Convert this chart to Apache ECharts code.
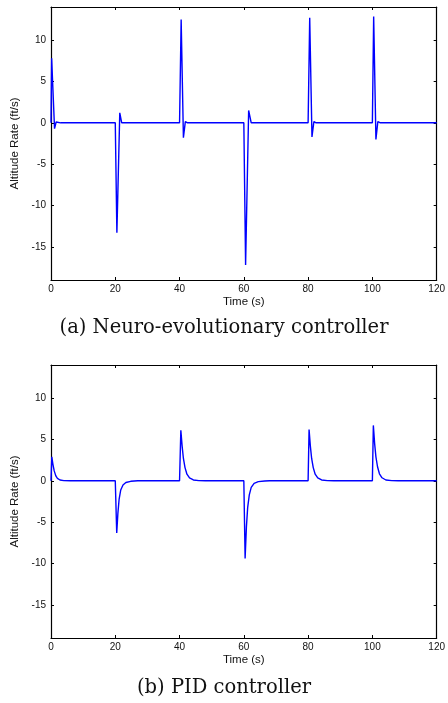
<!DOCTYPE html>
<html>
<head>
<meta charset="utf-8">
<script src="https://cdn.jsdelivr.net/npm/echarts@6/dist/echarts.min.js"></script>
<style>
html,body{margin:0;padding:0;background:#fff;}
#chart{width:448px;height:703px;}
</style>
</head>
<body>
<div id="chart"></div>
<script>
// Time axis ticks and altitude-rate tick values
const timeTicks = [0, 20, 40, 60, 80, 100, 120];
const rateTicks = [-15, -10, -5, 0, 5, 10];

// (a) Neuro-evolutionary controller
const neuroTime = [0, 0.2, 1.1, 1.6, 2.2, 3.0,
  20.0, 20.5, 21.4, 22.0,
  40.0, 40.5, 41.2, 41.8, 42.5,
  60.0, 60.55, 61.5, 62.3,
  80.0, 80.5, 81.2, 81.8, 82.5,
  100.0, 100.4, 101.1, 101.7, 102.5, 120];
const neuroRate = [0, 7.8, -0.7, 0.1, 0.15, 0,
  0, -13.3, 1.2, 0,
  0, 12.5, -1.8, 0.15, 0,
  0, -17.2, 1.5, 0,
  0, 12.7, -1.7, 0.15, 0,
  0, 12.85, -2.0, 0.15, 0, 0];

// (b) PID controller
const pidTime = [0, 0.25, 0.6, 1.0, 1.5, 2.0, 2.8, 4, 6,
  20, 20.45, 20.8, 21.2, 21.7, 22.4, 23.3, 24.8, 27,
  40, 40.4, 40.8, 41.2, 41.7, 42.3, 43.1, 44.3, 46, 48,
  60, 60.4, 60.8, 61.2, 61.7, 62.3, 63.2, 64.5, 66.5, 68,
  80, 80.3, 80.7, 81.1, 81.6, 82.2, 83, 84.2, 86, 88,
  100, 100.3, 100.7, 101.1, 101.6, 102.2, 103, 104.2, 106, 108, 120];
const pidRate = [0, 2.9, 2.0, 1.2, 0.6, 0.3, 0.1, 0.02, 0,
  0, -6.3, -4.0, -2.2, -1.1, -0.5, -0.2, -0.06, 0,
  0, 6.1, 4.2, 2.7, 1.6, 0.8, 0.35, 0.1, 0.02, 0,
  0, -9.4, -5.6, -3.2, -1.7, -0.8, -0.3, -0.1, -0.02, 0,
  0, 6.2, 4.2, 2.7, 1.6, 0.8, 0.35, 0.1, 0.02, 0,
  0, 6.7, 4.5, 2.9, 1.7, 0.85, 0.37, 0.1, 0.02, 0, 0];

const captions = ['(a) Neuro-evolutionary controller', '(b) PID controller'];
const xName = 'Time (s)';
const yName = 'Altitude Rate (ft/s)';

const zip = (a, b) => a.map((t, i) => [t, b[i]]);
const font = 'Liberation Sans, Arial, sans-serif';
const lineCol = { color: '#000', width: 1.2 };

function xAxes(gridIndex) {
  return [
    {
      type: 'value', gridIndex, position: 'bottom', min: 0, max: 120, interval: 20,
      name: xName, nameLocation: 'middle', nameGap: 16,
      nameTextStyle: { fontFamily: font, fontSize: 11.5, color: '#111' },
      axisLine: { onZero: false, lineStyle: lineCol },
      axisTick: { inside: true, length: 3, lineStyle: { color: '#000' } },
      axisLabel: { fontFamily: font, fontSize: 10, color: '#111', margin: 4 },
      splitLine: { show: false }
    },
    {
      type: 'value', gridIndex, position: 'top', min: 0, max: 120, interval: 20,
      axisLine: { onZero: false, lineStyle: lineCol },
      axisTick: { inside: true, length: 3, lineStyle: { color: '#000' } },
      axisLabel: { show: false },
      splitLine: { show: false }
    }
  ];
}
function yAxes(gridIndex) {
  return [
    {
      type: 'value', gridIndex, position: 'left', min: -19, max: 14,
      name: yName, nameLocation: 'middle', nameGap: 18,
      nameTextStyle: { fontFamily: font, fontSize: 11.5, color: '#111' },
      axisLine: { show: true, onZero: false, lineStyle: lineCol },
      axisTick: { show: true, inside: true, length: 3, customValues: rateTicks, lineStyle: { color: '#000' } },
      axisLabel: { fontFamily: font, fontSize: 10, color: '#111', margin: 5, customValues: rateTicks },
      splitLine: { show: false }
    },
    {
      type: 'value', gridIndex, position: 'right', min: -19, max: 14,
      axisLine: { show: true, onZero: false, lineStyle: lineCol },
      axisTick: { show: true, inside: true, length: 3, customValues: rateTicks, lineStyle: { color: '#000' } },
      axisLabel: { show: false },
      splitLine: { show: false }
    }
  ];
}

const chart = echarts.init(document.getElementById('chart'), null, { renderer: 'canvas' });
chart.setOption({
  animation: false,
  backgroundColor: '#fff',
  grid: [
    { left: 51, right: 8, top: 7, height: 273 },
    { left: 51, right: 8, top: 365, height: 273 }
  ],
  xAxis: [...xAxes(0), ...xAxes(1)],
  yAxis: [...yAxes(0), ...yAxes(1)],
  series: [
    {
      type: 'line', xAxisIndex: 0, yAxisIndex: 0, data: zip(neuroTime, neuroRate),
      showSymbol: false, lineStyle: { color: '#0000ff', width: 1.4 }
    },
    {
      type: 'line', xAxisIndex: 2, yAxisIndex: 2, data: zip(pidTime, pidRate),
      showSymbol: false, lineStyle: { color: '#0000ff', width: 1.4 }
    }
  ],
  graphic: [
    {
      type: 'text', left: 'center', top: 318,
      style: { text: captions[0], font: '19.5px "DejaVu Serif", serif', fill: '#111' }
    },
    {
      type: 'text', left: 'center', top: 678,
      style: { text: captions[1], font: '19.5px "DejaVu Serif", serif', fill: '#111' }
    }
  ]
});
</script>
</body>
</html>
